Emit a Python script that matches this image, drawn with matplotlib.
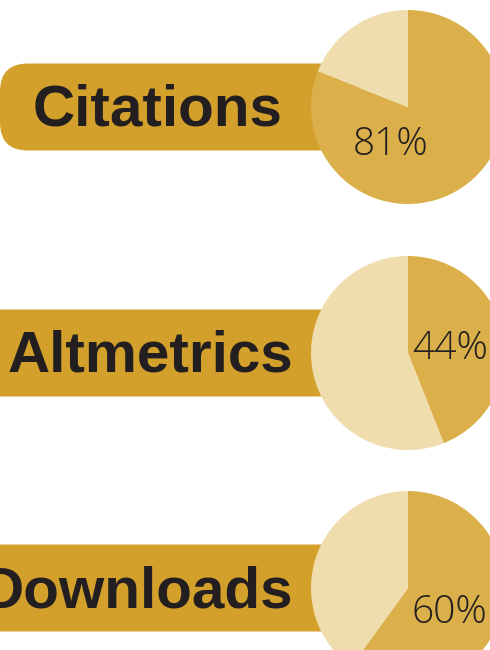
import matplotlib.pyplot as plt
from matplotlib.patches import FancyBboxPatch

# data
metrics = ['Citations', 'Altmetrics', 'Downloads']
percent = [81, 44, 60]

# layout (pixel coords, y measured from top)
W, H = 490, 650
row_y = [107, 353, 588]
pie_x = 408
pie_r = 97
banner_h = 87
banner_left = [0, -60, -60]
label_right = [282, 293, 293]
label_base = [126, 372, 607]
pct_x = [391, 450, 449]
pct_base = [155, 359, 623]

banner_col = '#D4A02C'
dark = '#DBB04B'
light = '#F0DDAE'
ink = '#231F20'

fig = plt.figure(figsize=(W / 100, H / 100), dpi=100)
ax = fig.add_axes([0, 0, 1, 1])

for i, name in enumerate(metrics):
    cy = H - row_y[i]
    # banner behind the pie
    left = banner_left[i]
    ban = FancyBboxPatch((left, cy - banner_h / 2), 360 - left, banner_h,
                         boxstyle='round,pad=0,rounding_size=28',
                         fc=banner_col, ec='none', zorder=0.5)
    ax.add_patch(ban)
    ax.text(label_right[i], H - label_base[i], name, ha='right', va='baseline',
            fontsize=42, fontweight='bold', family=['Liberation Sans', 'DejaVu Sans'],
            color=ink, zorder=3)

    wedges, _ = ax.pie([percent[i], 100 - percent[i]], colors=[dark, light],
                       startangle=90, counterclock=False,
                       center=(pie_x, cy), radius=pie_r,
                       wedgeprops=dict(linewidth=0))
    for w in wedges:
        w.set_zorder(1)
    ax.text(pct_x[i], H - pct_base[i], f'{percent[i]}%', ha='center', va='baseline',
            fontsize=28, fontweight='light', family=['Open Sans', 'DejaVu Sans'],
            color=ink, zorder=3)

ax.set_xlim(0, W)
ax.set_ylim(0, H)
ax.set_aspect('auto')
ax.axis('off')

fig.savefig('out.png', dpi=100, facecolor='white')
